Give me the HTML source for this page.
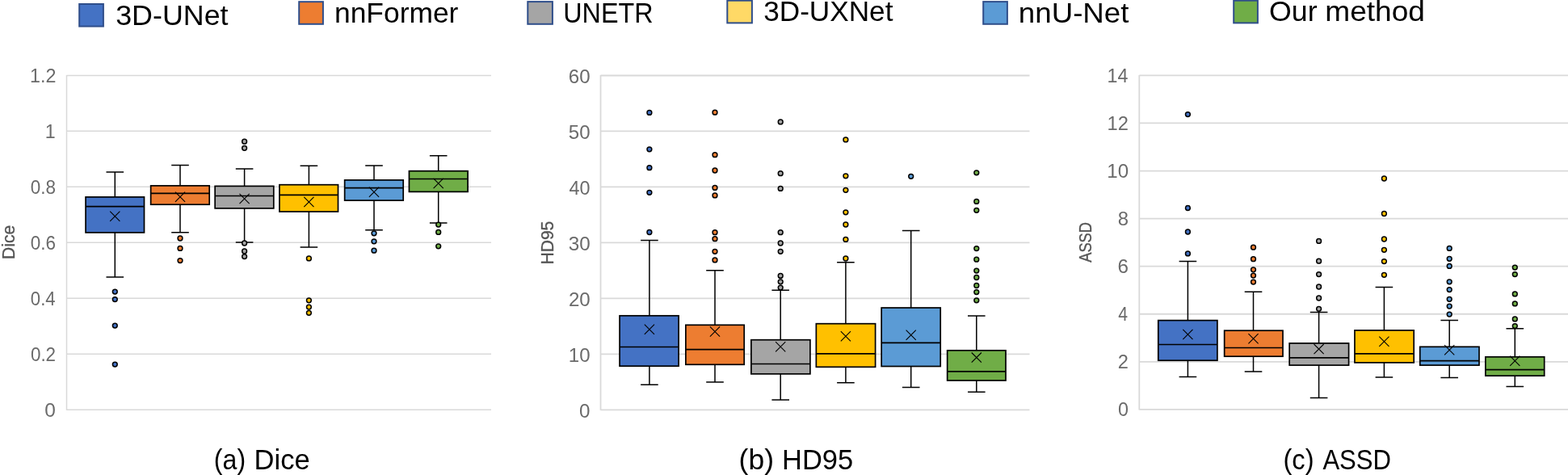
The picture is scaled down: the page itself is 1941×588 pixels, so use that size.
<!DOCTYPE html>
<html lang="en">
<head>
<meta charset="utf-8">
<title>Figure</title>
<style>
html,body{margin:0;padding:0;background:#fff;}
body{width:1941px;height:588px;overflow:hidden;}
svg{display:block;}
text{font-family:"Liberation Sans",sans-serif;}
.tick{font-size:24px;fill:#6A6A6A;text-anchor:end;}
.yl{font-size:22.8px;fill:#555555;stroke:#555555;stroke-width:0.35;}
.title{font-size:34.8px;fill:#000;}
.leg{font-size:34.6px;fill:#000;}
.grid{stroke:#D9D9D9;stroke-width:1.6;fill:none;}
.box{stroke:#000;stroke-width:1.7;}
.med{stroke:#000;stroke-width:1.7;fill:none;}
.wh{stroke:#000;stroke-width:1.5;fill:none;}
.mx{stroke:#000;stroke-width:1.1;fill:none;}
.out{stroke:#000;stroke-width:1.5;}
</style>
</head>
<body>
<svg width="1941" height="588" viewBox="0 0 1941 588">
<rect x="0" y="0" width="1941" height="588" fill="#fff"/>
<g id="legend">
<rect x="98.2" y="5" width="29.7" height="27.6" fill="#4472C4" stroke="#2F4E8A" stroke-width="2"/>
<text class="leg" x="143.16" y="30.5" textLength="139.4" lengthAdjust="spacingAndGlyphs">3D-UNet</text>
<rect x="370.2" y="2.2" width="29.7" height="27.6" fill="#ED7D31" stroke="#2F4E8A" stroke-width="2"/>
<text class="leg" x="413.98" y="28" textLength="153.43" lengthAdjust="spacingAndGlyphs">nnFormer</text>
<rect x="653.3" y="2.1" width="30.6" height="27.7" fill="#A5A5A5" stroke="#2F4E8A" stroke-width="2"/>
<text class="leg" x="697.31" y="28" textLength="111.19" lengthAdjust="spacingAndGlyphs">UNETR</text>
<rect x="900.3" y="0.7" width="30.6" height="27.7" fill="#FFD966" stroke="#2F4E8A" stroke-width="2"/>
<text class="leg" x="945.16" y="26.4" textLength="160.31" lengthAdjust="spacingAndGlyphs">3D-UXNet</text>
<rect x="1217.2" y="2.1" width="29.7" height="27.7" fill="#5B9BD5" stroke="#2F4E8A" stroke-width="2"/>
<text class="leg" x="1260.87" y="28" textLength="136.56" lengthAdjust="spacingAndGlyphs">nnU-Net</text>
<rect x="1527.2" y="0.7" width="29.7" height="27.7" fill="#70AD47" stroke="#2F4E8A" stroke-width="2"/>
<text class="leg" y="26.3"><tspan x="1571.06" textLength="59.56" lengthAdjust="spacingAndGlyphs">Our</tspan> <tspan x="1640.26" textLength="123.69" lengthAdjust="spacingAndGlyphs">method</tspan></text>
</g>
<g id="chart1">
<path class="grid" style="stroke-width:1.5" d="M82.5 93.4H608M82.5 162.37H608M82.5 231.34H608M82.5 300.31H608M82.5 369.28H608M82.5 438.25H608M82.5 507.22H608M82.5 92.9V507.72"/>
<text class="tick" transform="translate(69.34 102.35) scale(0.9704 1)">1.2</text>
<text class="tick" transform="translate(68.77 171.32) scale(0.967 1)">1</text>
<text class="tick" transform="translate(69 240.29) scale(0.9361 1)">0.8</text>
<text class="tick" transform="translate(69.01 309.26) scale(0.9362 1)">0.6</text>
<text class="tick" transform="translate(68.63 378.23) scale(0.9229 1)">0.4</text>
<text class="tick" transform="translate(69.09 447.2) scale(0.9349 1)">0.2</text>
<text class="tick" transform="translate(68.88 516.17) scale(1.0175 1)">0</text>
<text class="yl" transform="translate(18.2 320.97) rotate(-90)" textLength="42.15" lengthAdjust="spacingAndGlyphs">Dice</text>
<text class="title" y="580.5"><tspan x="264.87" textLength="39.25" lengthAdjust="spacingAndGlyphs">(a)</tspan> <tspan x="314.53" textLength="69.14" lengthAdjust="spacingAndGlyphs">Dice</tspan></text>
<g>
<path class="wh" d="M142.3 212.9V243.9M142.3 287.9V343.1M131.5 212.9H153.1M131.5 343.1H153.1"/>
<rect class="box" x="106.05" y="243.9" width="72.45" height="44" fill="#4472C4"/>
<path class="med" d="M106.05 255.7H178.5"/>
<path class="mx" d="M136.2 261.6L148.4 273.8M136.2 273.8L148.4 261.6"/>
<circle class="out" cx="142.3" cy="361.1" r="2.9" fill="#4472C4"/>
<circle class="out" cx="142.3" cy="370.6" r="2.9" fill="#4472C4"/>
<circle class="out" cx="142.3" cy="403.1" r="2.9" fill="#4472C4"/>
<circle class="out" cx="142.3" cy="451.1" r="2.9" fill="#4472C4"/>
</g>
<g>
<path class="wh" d="M223 204.4V229.9M223 253.2V287.7M212.2 204.4H233.8M212.2 287.7H233.8"/>
<rect class="box" x="186.65" y="229.9" width="72.55" height="23.3" fill="#ED7D31"/>
<path class="med" d="M186.65 239.4H259.2"/>
<path class="mx" d="M216.9 237.6L229.1 249.8M216.9 249.8L229.1 237.6"/>
<circle class="out" cx="223" cy="295" r="2.9" fill="#ED7D31"/>
<circle class="out" cx="223" cy="307.4" r="2.9" fill="#ED7D31"/>
<circle class="out" cx="223" cy="322.6" r="2.9" fill="#ED7D31"/>
</g>
<g>
<path class="wh" d="M302.6 209V230.4M302.6 257.9V299.9M291.8 209H313.4M291.8 299.9H313.4"/>
<rect class="box" x="266.15" y="230.4" width="72.65" height="27.5" fill="#A5A5A5"/>
<path class="med" d="M266.15 242.5H338.8"/>
<path class="mx" d="M296.5 239.9L308.7 252.1M296.5 252.1L308.7 239.9"/>
<circle class="out" cx="302.6" cy="175.2" r="2.9" fill="#A5A5A5"/>
<circle class="out" cx="302.6" cy="183.3" r="2.9" fill="#A5A5A5"/>
<circle class="out" cx="302.6" cy="301" r="2.9" fill="#A5A5A5"/>
<circle class="out" cx="302.6" cy="311" r="2.9" fill="#A5A5A5"/>
<circle class="out" cx="302.6" cy="317.6" r="2.9" fill="#A5A5A5"/>
</g>
<g>
<path class="wh" d="M382.4 205.2V228.7M382.4 262V306M371.6 205.2H393.2M371.6 306H393.2"/>
<rect class="box" x="345.95" y="228.7" width="72.55" height="33.3" fill="#FFC000"/>
<path class="med" d="M345.95 241.4H418.5"/>
<path class="mx" d="M376.3 243.9L388.5 256.1M376.3 256.1L388.5 243.9"/>
<circle class="out" cx="382.4" cy="319.9" r="2.9" fill="#FFC000"/>
<circle class="out" cx="382.4" cy="371.8" r="2.9" fill="#FFC000"/>
<circle class="out" cx="382.4" cy="380.1" r="2.9" fill="#FFC000"/>
<circle class="out" cx="382.4" cy="387.3" r="2.9" fill="#FFC000"/>
</g>
<g>
<path class="wh" d="M463 204.9V222.9M463 248.1V284.7M452.2 204.9H473.8M452.2 284.7H473.8"/>
<rect class="box" x="426.65" y="222.9" width="72.55" height="25.2" fill="#5B9BD5"/>
<path class="med" d="M426.65 232.6H499.2"/>
<path class="mx" d="M456.9 231.6L469.1 243.8M456.9 243.8L469.1 231.6"/>
<circle class="out" cx="463" cy="288.8" r="2.9" fill="#5B9BD5"/>
<circle class="out" cx="463" cy="298.8" r="2.9" fill="#5B9BD5"/>
<circle class="out" cx="463" cy="310.2" r="2.9" fill="#5B9BD5"/>
</g>
<g>
<path class="wh" d="M542.7 192.8V211.7M542.7 237.4V275.9M531.9 192.8H553.5M531.9 275.9H553.5"/>
<rect class="box" x="506.45" y="211.7" width="72.65" height="25.7" fill="#70AD47"/>
<path class="med" d="M506.45 221.5H579.1"/>
<path class="mx" d="M536.6 220.9L548.8 233.1M536.6 233.1L548.8 220.9"/>
<circle class="out" cx="542.7" cy="278.1" r="2.9" fill="#70AD47"/>
<circle class="out" cx="542.7" cy="287.4" r="2.9" fill="#70AD47"/>
<circle class="out" cx="542.7" cy="304.8" r="2.9" fill="#70AD47"/>
</g>
</g>
<g id="chart2">
<path class="grid" style="stroke-width:1.8" d="M743.5 93.5H1274.5M743.5 162.47H1274.5M743.5 231.44H1274.5M743.5 300.41H1274.5M743.5 369.38H1274.5M743.5 438.35H1274.5M743.5 507.32H1274.5M743.5 93V507.82"/>
<text class="tick" transform="translate(730.67 102.85) scale(1.0047 1)">60</text>
<text class="tick" transform="translate(730.6 171.82) scale(1.0017 1)">50</text>
<text class="tick" transform="translate(730.61 240.79) scale(0.9742 1)">40</text>
<text class="tick" transform="translate(730.62 309.76) scale(1.0102 1)">30</text>
<text class="tick" transform="translate(730.7 378.73) scale(1.0044 1)">20</text>
<text class="tick" transform="translate(730.61 447.7) scale(1.0032 1)">10</text>
<text class="tick" transform="translate(730.4 516.67) scale(1.007 1)">0</text>
<text class="yl" transform="translate(684.9 327.58) rotate(-90)" textLength="53.93" lengthAdjust="spacingAndGlyphs">HD95</text>
<text class="title" y="580.5"><tspan x="914.63" textLength="43.31" lengthAdjust="spacingAndGlyphs">(b)</tspan> <tspan x="968.08" textLength="88.11" lengthAdjust="spacingAndGlyphs">HD95</tspan></text>
<g>
<path class="wh" d="M803.9 297.4V390.8M803.9 453.2V476.3M793.1 297.4H814.7M793.1 476.3H814.7"/>
<rect class="box" x="767.05" y="390.8" width="73.05" height="62.4" fill="#4472C4"/>
<path class="med" d="M767.05 429.5H840.1"/>
<path class="mx" d="M797.8 401.7L810 413.9M797.8 413.9L810 401.7"/>
<circle class="out" cx="803.9" cy="139.4" r="2.9" fill="#4472C4"/>
<circle class="out" cx="803.9" cy="184.8" r="2.9" fill="#4472C4"/>
<circle class="out" cx="803.9" cy="207.7" r="2.9" fill="#4472C4"/>
<circle class="out" cx="803.9" cy="238.3" r="2.9" fill="#4472C4"/>
<circle class="out" cx="803.9" cy="287.5" r="2.9" fill="#4472C4"/>
</g>
<g>
<path class="wh" d="M885 334.8V402.3M885 451.3V472.9M874.2 334.8H895.8M874.2 472.9H895.8"/>
<rect class="box" x="848.85" y="402.3" width="72.35" height="49" fill="#ED7D31"/>
<path class="med" d="M848.85 432.6H921.2"/>
<path class="mx" d="M878.9 404.4L891.1 416.6M878.9 416.6L891.1 404.4"/>
<circle class="out" cx="885" cy="139.2" r="2.9" fill="#ED7D31"/>
<circle class="out" cx="885" cy="191.7" r="2.9" fill="#ED7D31"/>
<circle class="out" cx="885" cy="211" r="2.9" fill="#ED7D31"/>
<circle class="out" cx="885" cy="232.4" r="2.9" fill="#ED7D31"/>
<circle class="out" cx="885" cy="241.9" r="2.9" fill="#ED7D31"/>
<circle class="out" cx="885" cy="287.7" r="2.9" fill="#ED7D31"/>
<circle class="out" cx="885" cy="295.7" r="2.9" fill="#ED7D31"/>
<circle class="out" cx="885" cy="311.3" r="2.9" fill="#ED7D31"/>
<circle class="out" cx="885" cy="321.9" r="2.9" fill="#ED7D31"/>
</g>
<g>
<path class="wh" d="M966.2 359.3V420.7M966.2 462.9V495M955.4 359.3H977M955.4 495H977"/>
<rect class="box" x="929.85" y="420.7" width="73.05" height="42.2" fill="#A5A5A5"/>
<path class="med" d="M929.85 450.5H1002.9"/>
<path class="mx" d="M960.1 423.1L972.3 435.3M960.1 435.3L972.3 423.1"/>
<circle class="out" cx="966.2" cy="150.9" r="2.9" fill="#A5A5A5"/>
<circle class="out" cx="966.2" cy="214.7" r="2.9" fill="#A5A5A5"/>
<circle class="out" cx="966.2" cy="233.4" r="2.9" fill="#A5A5A5"/>
<circle class="out" cx="966.2" cy="287.7" r="2.9" fill="#A5A5A5"/>
<circle class="out" cx="966.2" cy="301" r="2.9" fill="#A5A5A5"/>
<circle class="out" cx="966.2" cy="311.3" r="2.9" fill="#A5A5A5"/>
<circle class="out" cx="966.2" cy="341.4" r="2.9" fill="#A5A5A5"/>
<circle class="out" cx="966.2" cy="348.8" r="2.9" fill="#A5A5A5"/>
<circle class="out" cx="966.2" cy="356.1" r="2.9" fill="#A5A5A5"/>
</g>
<g>
<path class="wh" d="M1046.9 324.8V400.7M1046.9 454.3V473.7M1036.1 324.8H1057.7M1036.1 473.7H1057.7"/>
<rect class="box" x="1010.35" y="400.7" width="73.25" height="53.6" fill="#FFC000"/>
<path class="med" d="M1010.35 437.8H1083.6"/>
<path class="mx" d="M1040.8 410.2L1053 422.4M1040.8 422.4L1053 410.2"/>
<circle class="out" cx="1046.9" cy="172.9" r="2.9" fill="#FFC000"/>
<circle class="out" cx="1046.9" cy="217.8" r="2.9" fill="#FFC000"/>
<circle class="out" cx="1046.9" cy="235.3" r="2.9" fill="#FFC000"/>
<circle class="out" cx="1046.9" cy="262.8" r="2.9" fill="#FFC000"/>
<circle class="out" cx="1046.9" cy="278" r="2.9" fill="#FFC000"/>
<circle class="out" cx="1046.9" cy="296.4" r="2.9" fill="#FFC000"/>
<circle class="out" cx="1046.9" cy="320" r="2.9" fill="#FFC000"/>
</g>
<g>
<path class="wh" d="M1127.7 285.5V381M1127.7 453.5V479.5M1116.9 285.5H1138.5M1116.9 479.5H1138.5"/>
<rect class="box" x="1091.15" y="381" width="73.05" height="72.5" fill="#5B9BD5"/>
<path class="med" d="M1091.15 424.3H1164.2"/>
<path class="mx" d="M1121.6 408.7L1133.8 420.9M1121.6 420.9L1133.8 408.7"/>
<circle class="out" cx="1127.7" cy="218.3" r="2.9" fill="#5B9BD5"/>
</g>
<g>
<path class="wh" d="M1208.8 391V433.8M1208.8 471V485.3M1198 391H1219.6M1198 485.3H1219.6"/>
<rect class="box" x="1172.65" y="433.8" width="72.35" height="37.2" fill="#70AD47"/>
<path class="med" d="M1172.65 459.9H1245"/>
<path class="mx" d="M1202.7 436.5L1214.9 448.7M1202.7 448.7L1214.9 436.5"/>
<circle class="out" cx="1208.8" cy="213.8" r="2.9" fill="#70AD47"/>
<circle class="out" cx="1208.8" cy="249.4" r="2.9" fill="#70AD47"/>
<circle class="out" cx="1208.8" cy="260.3" r="2.9" fill="#70AD47"/>
<circle class="out" cx="1208.8" cy="307.6" r="2.9" fill="#70AD47"/>
<circle class="out" cx="1208.8" cy="321.2" r="2.9" fill="#70AD47"/>
<circle class="out" cx="1208.8" cy="335.1" r="2.9" fill="#70AD47"/>
<circle class="out" cx="1208.8" cy="343.5" r="2.9" fill="#70AD47"/>
<circle class="out" cx="1208.8" cy="353.5" r="2.9" fill="#70AD47"/>
<circle class="out" cx="1208.8" cy="361.6" r="2.9" fill="#70AD47"/>
<circle class="out" cx="1208.8" cy="371.8" r="2.9" fill="#70AD47"/>
</g>
</g>
<g id="chart3">
<path class="grid" style="stroke-width:1.8" d="M1410.3 93.4H1945M1410.3 152.47H1945M1410.3 211.54H1945M1410.3 270.61H1945M1410.3 329.68H1945M1410.3 388.75H1945M1410.3 447.82H1945M1410.3 506.89H1945M1410.3 92.9V507.39"/>
<text class="tick" transform="translate(1396.31 101.6) scale(0.9684 1)">14</text>
<text class="tick" transform="translate(1396.86 160.67) scale(0.9867 1)">12</text>
<text class="tick" transform="translate(1397.08 219.74) scale(1.0038 1)">10</text>
<text class="tick" transform="translate(1397.08 278.81) scale(0.994 1)">8</text>
<text class="tick" transform="translate(1397.05 337.88) scale(1.0097 1)">6</text>
<text class="tick" transform="translate(1396.1 396.95) scale(0.8823 1)">4</text>
<text class="tick" transform="translate(1396.78 456.02) scale(0.9831 1)">2</text>
<text class="tick" transform="translate(1396.91 515.09) scale(0.9692 1)">0</text>
<text class="yl" transform="translate(1351.1 324.82) rotate(-90)" textLength="49.86" lengthAdjust="spacingAndGlyphs">ASSD</text>
<text class="title" y="580.5"><tspan x="1588.49" textLength="38.08" lengthAdjust="spacingAndGlyphs">(c)</tspan> <tspan x="1637.39" textLength="84.67" lengthAdjust="spacingAndGlyphs">ASSD</tspan></text>
<g>
<path class="wh" d="M1470.4 323.4V396.6M1470.4 446.2V466.6M1459.6 323.4H1481.2M1459.6 466.6H1481.2"/>
<rect class="box" x="1433.75" y="396.6" width="73.15" height="49.6" fill="#4472C4"/>
<path class="med" d="M1433.75 426.5H1506.9"/>
<path class="mx" d="M1464.3 407.9L1476.5 420.1M1464.3 420.1L1476.5 407.9"/>
<circle class="out" cx="1470.4" cy="141.6" r="2.9" fill="#4472C4"/>
<circle class="out" cx="1470.4" cy="257.5" r="2.9" fill="#4472C4"/>
<circle class="out" cx="1470.4" cy="287" r="2.9" fill="#4472C4"/>
<circle class="out" cx="1470.4" cy="313.9" r="2.9" fill="#4472C4"/>
</g>
<g>
<path class="wh" d="M1551.5 361.3V409.2M1551.5 441.2V459.9M1540.7 361.3H1562.3M1540.7 459.9H1562.3"/>
<rect class="box" x="1515.65" y="409.2" width="72.35" height="32" fill="#ED7D31"/>
<path class="med" d="M1515.65 430.5H1588"/>
<path class="mx" d="M1545.4 413.1L1557.6 425.3M1545.4 425.3L1557.6 413.1"/>
<circle class="out" cx="1551.5" cy="306.2" r="2.9" fill="#ED7D31"/>
<circle class="out" cx="1551.5" cy="320.7" r="2.9" fill="#ED7D31"/>
<circle class="out" cx="1551.5" cy="333.8" r="2.9" fill="#ED7D31"/>
<circle class="out" cx="1551.5" cy="341.1" r="2.9" fill="#ED7D31"/>
<circle class="out" cx="1551.5" cy="349.1" r="2.9" fill="#ED7D31"/>
</g>
<g>
<path class="wh" d="M1632.6 386.5V424.9M1632.6 452.1V492.4M1621.8 386.5H1643.4M1621.8 492.4H1643.4"/>
<rect class="box" x="1596.15" y="424.9" width="73.45" height="27.2" fill="#A5A5A5"/>
<path class="med" d="M1596.15 442.8H1669.6"/>
<path class="mx" d="M1626.5 426L1638.7 438.2M1626.5 438.2L1638.7 426"/>
<circle class="out" cx="1632.6" cy="298.4" r="2.9" fill="#A5A5A5"/>
<circle class="out" cx="1632.6" cy="323.2" r="2.9" fill="#A5A5A5"/>
<circle class="out" cx="1632.6" cy="339.6" r="2.9" fill="#A5A5A5"/>
<circle class="out" cx="1632.6" cy="355" r="2.9" fill="#A5A5A5"/>
<circle class="out" cx="1632.6" cy="369" r="2.9" fill="#A5A5A5"/>
<circle class="out" cx="1632.6" cy="382.3" r="2.9" fill="#A5A5A5"/>
</g>
<g>
<path class="wh" d="M1713.4 355.6V408.9M1713.4 448.9V466.9M1702.6 355.6H1724.2M1702.6 466.9H1724.2"/>
<rect class="box" x="1676.95" y="408.9" width="73.25" height="40" fill="#FFC000"/>
<path class="med" d="M1676.95 437.8H1750.2"/>
<path class="mx" d="M1707.3 416.7L1719.5 428.9M1707.3 428.9L1719.5 416.7"/>
<circle class="out" cx="1713.4" cy="221" r="2.9" fill="#FFC000"/>
<circle class="out" cx="1713.4" cy="264.5" r="2.9" fill="#FFC000"/>
<circle class="out" cx="1713.4" cy="296" r="2.9" fill="#FFC000"/>
<circle class="out" cx="1713.4" cy="309.3" r="2.9" fill="#FFC000"/>
<circle class="out" cx="1713.4" cy="323.6" r="2.9" fill="#FFC000"/>
<circle class="out" cx="1713.4" cy="340.3" r="2.9" fill="#FFC000"/>
</g>
<g>
<path class="wh" d="M1794.2 396.4V429.3M1794.2 452.1V467.4M1783.4 396.4H1805M1783.4 467.4H1805"/>
<rect class="box" x="1757.75" y="429.3" width="73.25" height="22.8" fill="#5B9BD5"/>
<path class="med" d="M1757.75 446.6H1831"/>
<path class="mx" d="M1788.1 427.2L1800.3 439.4M1788.1 439.4L1800.3 427.2"/>
<circle class="out" cx="1794.2" cy="307.4" r="2.9" fill="#5B9BD5"/>
<circle class="out" cx="1794.2" cy="320.3" r="2.9" fill="#5B9BD5"/>
<circle class="out" cx="1794.2" cy="329.4" r="2.9" fill="#5B9BD5"/>
<circle class="out" cx="1794.2" cy="348.8" r="2.9" fill="#5B9BD5"/>
<circle class="out" cx="1794.2" cy="358.6" r="2.9" fill="#5B9BD5"/>
<circle class="out" cx="1794.2" cy="370.3" r="2.9" fill="#5B9BD5"/>
<circle class="out" cx="1794.2" cy="379.1" r="2.9" fill="#5B9BD5"/>
<circle class="out" cx="1794.2" cy="389.1" r="2.9" fill="#5B9BD5"/>
</g>
<g>
<path class="wh" d="M1875.3 406.8V441.8M1875.3 465.2V478.6M1864.5 406.8H1886.1M1864.5 478.6H1886.1"/>
<rect class="box" x="1838.85" y="441.8" width="72.85" height="23.4" fill="#70AD47"/>
<path class="med" d="M1838.85 457.7H1911.7"/>
<path class="mx" d="M1869.2 440.7L1881.4 452.9M1869.2 452.9L1881.4 440.7"/>
<circle class="out" cx="1875.3" cy="331.1" r="2.9" fill="#70AD47"/>
<circle class="out" cx="1875.3" cy="339.6" r="2.9" fill="#70AD47"/>
<circle class="out" cx="1875.3" cy="363.9" r="2.9" fill="#70AD47"/>
<circle class="out" cx="1875.3" cy="375.9" r="2.9" fill="#70AD47"/>
<circle class="out" cx="1875.3" cy="394.9" r="2.9" fill="#70AD47"/>
<circle class="out" cx="1875.3" cy="403.6" r="2.9" fill="#70AD47"/>
</g>
</g>
</svg>
</body>
</html>
